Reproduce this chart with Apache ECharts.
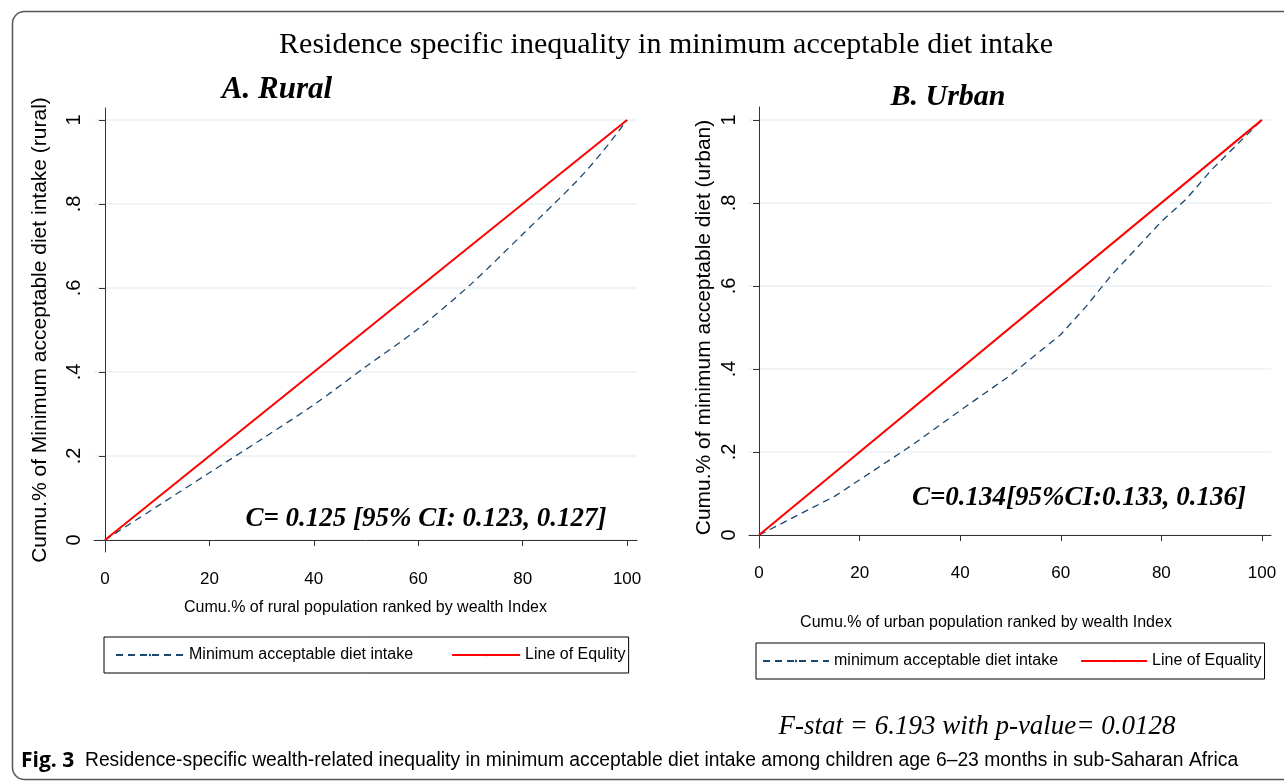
<!DOCTYPE html>
<html>
<head>
<meta charset="utf-8">
<script src="https://cdn.jsdelivr.net/npm/echarts@6/dist/echarts.min.js"></script>
<style>
html,body{margin:0;padding:0;background:#fff;}
#chart{width:1284px;height:784px;}
</style>
</head>
<body>
<div id="chart"></div>
<script>
// ---- data ----
const xTicks = [0, 20, 40, 60, 80, 100];
const yTicks = [0, 0.2, 0.4, 0.6, 0.8, 1];
const yTickLabels = ['0', '.2', '.4', '.6', '.8', '1'];

const ruralX = [0, 10, 20, 30, 40, 50, 60, 70, 80, 90, 95, 100];
const ruralY = [0, 0.08, 0.16, 0.24, 0.322, 0.413, 0.503, 0.608, 0.728, 0.85, 0.92, 1];

const urbanX = [0, 15, 30, 40, 50, 60, 65, 70, 80, 85, 90, 95, 100];
const urbanY = [0, 0.093, 0.213, 0.3, 0.385, 0.483, 0.55, 0.625, 0.755, 0.81, 0.88, 0.94, 1];

const equalityX = [0, 100];
const equalityY = [0, 1];

const mainTitle = 'Residence specific inequality in minimum acceptable diet intake';
const panelTitles = ['A. Rural', 'B. Urban'];
const ciTexts = ['C= 0.125 [95% CI: 0.123, 0.127]', 'C=0.134[95%CI:0.133, 0.136]'];
const fStat = 'F-stat = 6.193 with p-value= 0.0128';
const figLabel = 'Fig. 3';
const caption = 'Residence-specific wealth-related inequality in minimum acceptable diet intake among children age 6–23 months in sub-Saharan Africa';
const seriesNames = [
  ['Minimum acceptable diet intake', 'Line of Equlity'],
  ['minimum acceptable diet intake', 'Line of Equality']
];
const xTitles = ['Cumu.% of rural population ranked by wealth Index', 'Cumu.% of urban population ranked by wealth Index'];
const yTitles = ['Cumu.% of Minimum acceptable diet intake (rural)', 'Cumu.% of minimum acceptable diet (urban)'];

const zip = (a, b) => a.map((v, i) => [v, b[i]]);

const sans = "'Liberation Sans',Arial,sans-serif";
const serif = "'Liberation Serif','Times New Roman',serif";
const NAVY = '#1a476f';
const RED = '#ff0000';
const GRIDC = '#eaf2f3';

function xAxisCfg(idx, min, max, nameGap, pad, labelMargin) {
  return {
    type: 'value', gridIndex: idx, min: min, max: max,
    name: xTitles[idx], nameLocation: 'middle', nameGap: nameGap,
    nameTextStyle: {fontFamily: sans, fontSize: 16, color: '#000', padding: pad},
    axisLine: {show: true, lineStyle: {color: '#333', width: 1}},
    axisTick: {show: true, length: 6, customValues: xTicks, lineStyle: {color: '#333'}},
    axisLabel: {customValues: xTicks, fontFamily: sans, fontSize: 17, color: '#000', margin: labelMargin},
    splitLine: {show: false}
  };
}
function yAxisCfg(idx, min, max, nameGap) {
  return {
    type: 'value', gridIndex: idx, min: min, max: max,
    name: yTitles[idx], nameLocation: 'middle', nameGap: nameGap, nameRotate: 90,
    nameTextStyle: {fontFamily: sans, fontSize: 21, color: '#000'},
    axisLine: {show: true, lineStyle: {color: '#333', width: 1}},
    axisTick: {show: true, length: 6, customValues: yTicks, lineStyle: {color: '#333'}},
    axisLabel: {
      customValues: yTicks, rotate: 90, fontFamily: sans, fontSize: 20, color: '#000', margin: 10,
      formatter: v => { const i = yTicks.findIndex(t => Math.abs(t - v) < 1e-6); return i >= 0 ? yTickLabels[i] : ''; }
    },
    splitLine: {show: true, lineStyle: {color: GRIDC, width: 1.5}}
  };
}

const chart = echarts.init(document.getElementById('chart'), null, {renderer: 'canvas'});
const option = {
  backgroundColor: '#fff',
  animation: false,
  grid: [
    {left: 94, top: 108, width: 543, height: 444},
    {left: 749, top: 107, width: 522, height: 441}
  ],
  xAxis: [
    xAxisCfg(0, -2.1, 101.9, 48, [0, 0, 0, 0], 19),
    xAxisCfg(1, -2, 101.8, 67, [0, 48, 0, 0], 17)
  ],
  yAxis: [
    yAxisCfg(0, -0.0286, 1.0286, 43),
    yAxisCfg(1, -0.0313, 1.031, 34)
  ],
  legend: [
    {
      data: seriesNames[0], left: 104, top: 637, width: 540, orient: 'horizontal',
      itemWidth: 68, itemHeight: 3, itemGap: 38,
      padding: [10, 3, 10, 11],
      borderColor: '#000', borderWidth: 1, borderRadius: 0,
      textStyle: {fontFamily: sans, fontSize: 16, color: '#000'}
    },
    {
      data: seriesNames[1], left: 756, top: 643, width: 520, orient: 'horizontal',
      itemWidth: 66, itemHeight: 3, itemGap: 22,
      padding: [10, 3, 10, 6],
      borderColor: '#000', borderWidth: 1, borderRadius: 0,
      textStyle: {fontFamily: sans, fontSize: 16, color: '#000'}
    }
  ],
  series: [
    {
      name: seriesNames[0][0], type: 'line', xAxisIndex: 0, yAxisIndex: 0,
      data: zip(ruralX, ruralY), smooth: 0.3, symbol: 'none',
      lineStyle: {color: NAVY, width: 1.3, type: [7, 5]}, itemStyle: {color: NAVY}, z: 3
    },
    {
      name: seriesNames[0][1], type: 'line', xAxisIndex: 0, yAxisIndex: 0,
      data: zip(equalityX, equalityY), symbol: 'none',
      lineStyle: {color: RED, width: 2}, itemStyle: {color: RED}, z: 4
    },
    {
      name: seriesNames[1][0], type: 'line', xAxisIndex: 1, yAxisIndex: 1,
      data: zip(urbanX, urbanY), smooth: false, symbol: 'none',
      lineStyle: {color: NAVY, width: 1.3, type: [7, 5]}, itemStyle: {color: NAVY}, z: 3
    },
    {
      name: seriesNames[1][1], type: 'line', xAxisIndex: 1, yAxisIndex: 1,
      data: zip(equalityX, equalityY), symbol: 'none',
      lineStyle: {color: RED, width: 2}, itemStyle: {color: RED}, z: 4
    }
  ],
  graphic: [
    {type: 'rect', shape: {x: 12.5, y: 11.5, width: 1320, height: 768, r: 12}, style: {fill: 'none', stroke: '#555', lineWidth: 1.5}, silent: true, z: -1},
    {type: 'text', x: 666, y: 45, style: {text: mainTitle, font: "30px " + serif, fill: '#000', textAlign: 'center', textVerticalAlign: 'middle'}},
    {type: 'text', x: 277, y: 90, style: {text: panelTitles[0], font: "bold italic 31px " + serif, fill: '#000', textAlign: 'center', textVerticalAlign: 'middle'}},
    {type: 'text', x: 948, y: 97, style: {text: panelTitles[1], font: "bold italic 30px " + serif, fill: '#000', textAlign: 'center', textVerticalAlign: 'middle'}},
    {type: 'text', x: 426, y: 519, style: {text: ciTexts[0], font: "bold italic 27px " + serif, fill: '#000', textAlign: 'center', textVerticalAlign: 'middle'}},
    {type: 'text', x: 1079, y: 498, style: {text: ciTexts[1], font: "bold italic 27px " + serif, fill: '#000', textAlign: 'center', textVerticalAlign: 'middle'}},
    {type: 'text', x: 977, y: 727, style: {text: fStat, font: "italic 27px " + serif, fill: '#000', textAlign: 'center', textVerticalAlign: 'middle'}},
    {type: 'text', x: 21, y: 761, style: {
      text: '{b|' + figLabel + '}{r|  ' + caption + '}',
      textVerticalAlign: 'middle',
      rich: {
        b: {fontFamily: "'Open Sans',sans-serif", fontWeight: 'bold', fontSize: 21, color: '#1a1a1a'},
        r: {fontFamily: sans, fontSize: 19.3, color: '#1a1a1a'}
      }
    }}
  ]
};
chart.setOption(option);
</script>
</body>
</html>
